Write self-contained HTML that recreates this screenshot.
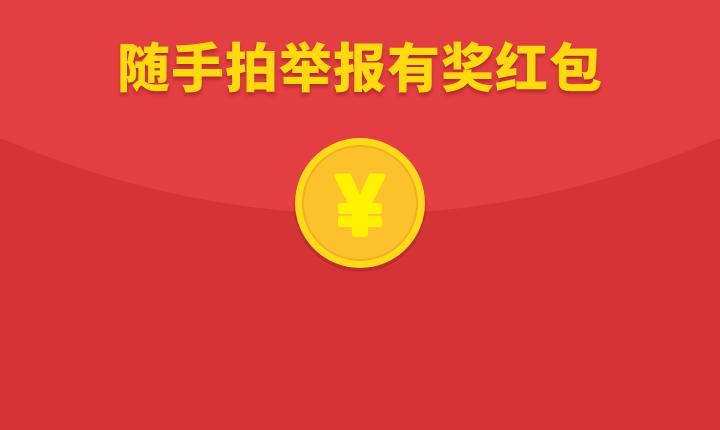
<!DOCTYPE html>
<html><head><meta charset="utf-8"><style>
html,body{margin:0;padding:0}
body{width:720px;height:430px;overflow:hidden;position:relative;background:#e33e41;font-family:"Liberation Sans","Noto Sans CJK SC",sans-serif}
#title{position:absolute;left:0;top:38px;width:720px;text-align:center;font-size:53px;font-weight:900;color:#ffd90f;letter-spacing:1px;text-shadow:0 3px 3px rgba(120,20,20,.45);line-height:64px}
svg{position:absolute;left:0;top:0}
</style></head><body>
<svg width="720" height="430">
<path d="M0,138 Q360,290 720,138 L720,430 L0,430 Z" fill="#d53437"/>
<g>
<circle cx="360" cy="206" r="66" fill="rgba(120,20,20,.25)"/>
<circle cx="360" cy="203" r="65" fill="#ffd91a"/>
<circle cx="360" cy="203" r="57" fill="#fdc22b"/>
<circle cx="360" cy="203" r="57" fill="none" stroke="#f0b020" stroke-width="2"/>
<text x="360" y="234" text-anchor="middle" font-size="84" font-weight="bold" fill="#fff200" stroke="#fff200" stroke-width="5" stroke-linejoin="round" font-family="Liberation Sans,sans-serif">¥</text>
</g>
</svg>
<div id="title">随手拍举报有奖红包</div>
</body></html>
